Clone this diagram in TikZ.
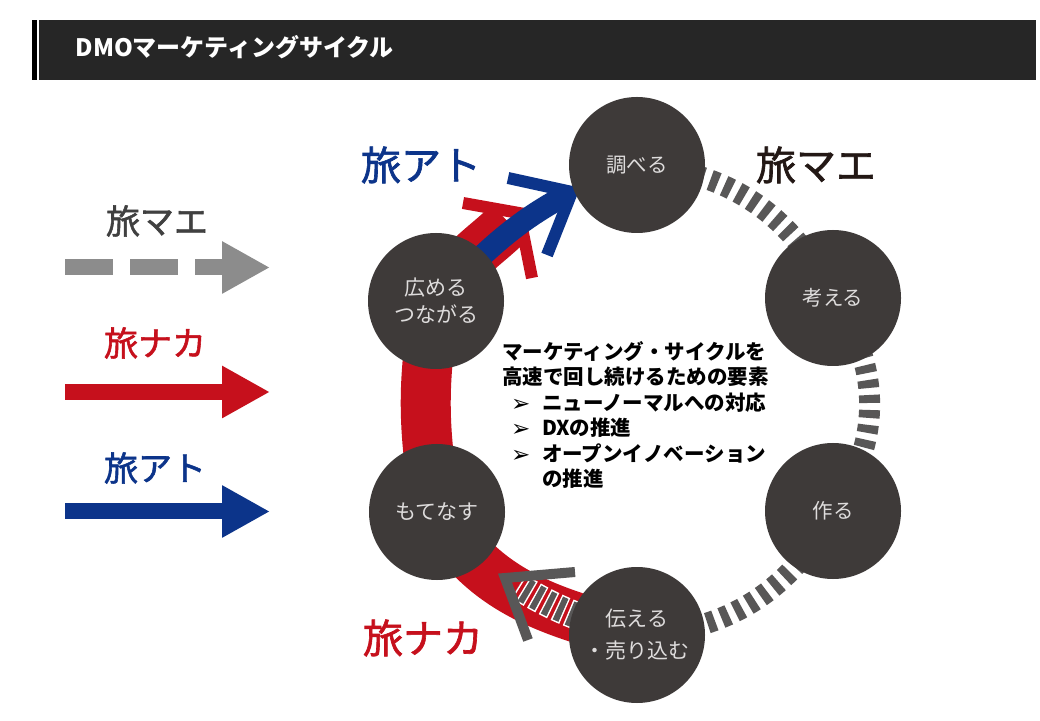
\documentclass[tikz,border=0pt]{standalone}
\usepackage{fontspec}
\setmainfont{Noto Sans CJK JP}
\newfontfamily\jpmed[FakeBold=1.6]{Noto Sans CJK JP}
\newfontfamily\dvs{DejaVu Sans}
\usetikzlibrary{arrows.meta}
\pgfdeclarelayer{back}
\pgfdeclarelayer{bg}
\pgfsetlayers{back,bg,main}
\definecolor{circ}{RGB}{62,58,57}
\definecolor{cred}{RGB}{198,16,28}
\definecolor{cblue}{RGB}{12,52,138}
\definecolor{cgray}{RGB}{88,87,87}
\definecolor{lgray}{RGB}{140,140,140}
\definecolor{hdr}{RGB}{38,38,38}
\definecolor{ctext}{RGB}{222,220,220}
\definecolor{tblack}{RGB}{35,24,21}
\definecolor{tdgray}{RGB}{64,64,64}
\newcommand\blt[1]{\makebox[40pt][l]{\hspace*{9pt}\raisebox{-1pt}{\dvs\fontsize{23}{23}\selectfont ➢}}#1}
\begin{document}
\begin{tikzpicture}[x=1pt,y=1pt,
  stage/.style={circle,fill=circ,minimum size=136pt,inner sep=0pt,text=ctext,font=\fontsize{20.5}{26}\selectfont,align=center},
  grayband/.style={draw=cgray,line width=21pt,dash pattern=on 8pt off 7pt},
  redband/.style={draw=cred,line width=50pt},
  chev/.style={line width=12pt,line join=miter,miter limit=10},
  bigword/.style={font=\fontsize{40}{40}\selectfont\jpmed},
  legword/.style={font=\fontsize{34}{34}\selectfont\jpmed},
  legarrow/.style={line width=16pt,-{Triangle[length=48pt,width=49pt]}},
]
\useasboundingbox (0,0) rectangle (1040,720);
\begin{pgfonlayer}{back}
\fill[white] (0,0) rectangle (1040,720);
\end{pgfonlayer}

% header
\fill[black] (32,640) rectangle (37,700);
\fill[hdr] (39,640) rectangle (1036,700);
\node[anchor=west,text=white,font=\fontsize{24}{24}\selectfont\bfseries] (title) at (72,673) {DMOマーケティングサイクル};

% stages
\node[stage] (shiraberu) at (637,555) {調べる};
\node[stage] (kangaeru) at (833,422) {考える};
\node[stage] (tsukuru) at (833,209) {作る};
\node[stage,font=\fontsize{21}{32}\selectfont] (tsutaeru) at (637,85) {伝える\\・売り込む};
\node[stage,font=\fontsize{21}{27}\selectfont] (motenasu) at (437,208) {もてなす};
\node[stage,font=\fontsize{21}{27}\selectfont] (hiromeru) at (436,419) {広める\\つながる};

% arrow tips
\coordinate (redtip) at (519,507);
\coordinate (redarmA) at (463,517);
\coordinate (redarmB) at (532,442);
\coordinate (bluetip) at (572,528);
\coordinate (bluearmA) at (508,542);
\coordinate (bluearmB) at (547,465);
\coordinate (graytip) at (505,142);
\coordinate (grayarmA) at (575,148);
\coordinate (grayarmB) at (528,80);

\begin{pgfonlayer}{bg}
\draw[redband,shorten >=14pt] (tsutaeru.center) to[out=165,in=-60] (motenasu.center)
   to[out=100,in=-100] (hiromeru.center) to[out=60,in=225] (redtip);
\draw[grayband] (shiraberu.center) to[bend left=30] (kangaeru.center);
\draw[grayband] (kangaeru.center) to[bend left=36] (tsukuru.center);
\draw[grayband] (tsukuru.center) to[bend left=30] (tsutaeru.center);
\draw[white,line width=28pt,dash pattern=on 9pt off 3.7pt,shorten >=16pt] (tsutaeru.center) to[out=165,in=-32] (graytip);
\draw[cgray,line width=25pt,dash pattern=on 0pt off 1.5pt on 6pt off 5.2pt,shorten >=16pt] (tsutaeru.center) to[out=165,in=-32] (graytip);
\draw[cgray,chev,line width=10pt] (grayarmA) -- (graytip) -- (grayarmB);
\draw[cred,chev] (redarmA) -- (redtip) -- (redarmB);
\draw[cblue,line width=22pt,shorten >=6pt] (hiromeru.center) to[out=45,in=208] (bluetip);
\draw[cblue,chev] (bluearmA) -- (bluetip) -- (bluearmB);
\end{pgfonlayer}

% cycle labels
\node[bigword,text=cblue] (ltA) at (421,555) {旅アト};
\node[bigword,text=tblack] (ltB) at (816,555) {旅マエ};
\node[bigword,text=cred] (ltC) at (423,82) {旅ナカ};

% legend
\node[legword,text=tdgray] (lgA) at (157,499) {旅マエ};
\node[legword,text=cred] (lgB) at (155,377) {旅ナカ};
\node[legword,text=cblue] (lgC) at (155,252) {旅アト};
\coordinate (lgAs) at (65,452.5); \coordinate (lgAe) at (270,452.5);
\coordinate (lgBs) at (65,328); \coordinate (lgBe) at (270,328);
\coordinate (lgCs) at (65,208.5); \coordinate (lgCe) at (270,208.5);
\draw[legarrow,lgray,dash pattern=on 48pt off 17pt] (lgAs) -- (lgAe);
\draw[legarrow,cred] (lgBs) -- (lgBe);
\draw[legarrow,cblue] (lgCs) -- (lgCe);

% central text
\node[anchor=north west,align=left,inner sep=0pt,text=black,font=\fontsize{20.5}{25.5}\selectfont\bfseries] (elements) at (502,379) {%
マーケティング・サイクルを\\
高速で回し続けるための要素\\
\blt{ニューノーマルへの対応}\\
\blt{DXの推進}\\
\blt{オープンイノベーション}\\
\hspace*{40pt}の推進};
\end{tikzpicture}
\end{document}
